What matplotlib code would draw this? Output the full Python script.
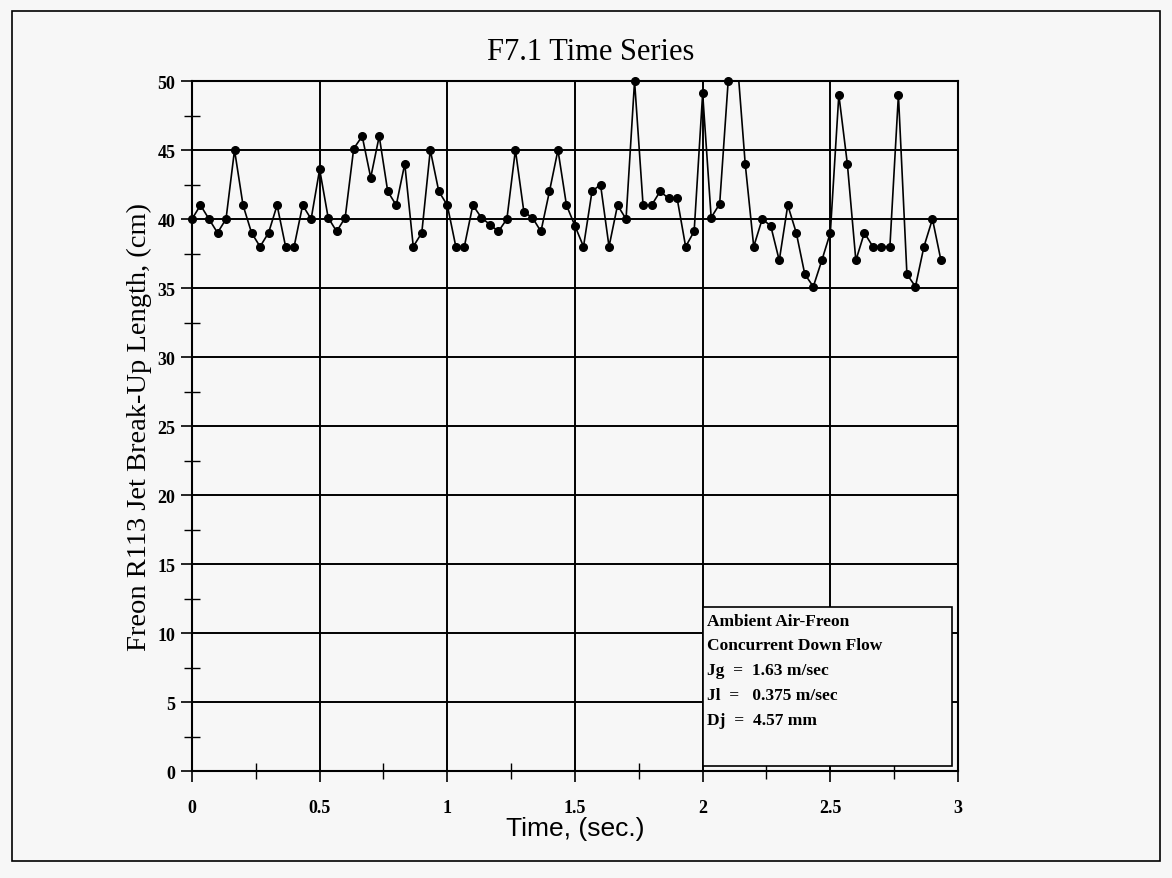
import numpy as np
import matplotlib
matplotlib.use('Agg')
import matplotlib.pyplot as plt
from matplotlib.patches import Rectangle

# frames sampled at 30 fps
frame_rate = 30.0
break_up_length = [
    40.0, 41.0, 40.0, 39.0, 40.0, 45.0, 41.0, 39.0, 38.0, 39.0,
    41.0, 38.0, 38.0, 41.0, 40.0, 43.6, 40.1, 39.1, 40.1, 45.1,
    46.0, 43.0, 46.0, 42.0, 41.0, 44.0, 38.0, 39.0, 45.0, 42.0,
    41.0, 38.0, 38.0, 41.0, 40.1, 39.6, 39.1, 40.0, 45.0, 40.5,
    40.1, 39.1, 42.0, 45.0, 41.0, 39.5, 38.0, 42.0, 42.5, 38.0,
    41.0, 40.0, 50.0, 41.0, 41.0, 42.0, 41.5, 41.5, 38.0, 39.1,
    49.1, 40.1, 41.1, 50.0, 52.0, 44.0, 38.0, 40.0, 39.5, 37.0,
    41.0, 39.0, 36.0, 35.1, 37.0, 39.0, 49.0, 44.0, 37.0, 39.0,
    38.0, 38.0, 38.0, 49.0, 36.0, 35.1, 38.0, 40.0, 37.0,
]
x_ticks = [0, 0.5, 1, 1.5, 2, 2.5, 3]
x_tick_labels = ['0', '0.5', '1', '1.5', '2', '2.5', '3']
y_ticks = [0, 5, 10, 15, 20, 25, 30, 35, 40, 45, 50]
note_lines = [
    'Ambient Air-Freon',
    'Concurrent Down Flow',
    'Jg  =  1.63 m/sec',
    'Jl  =   0.375 m/sec',
    'Dj  =  4.57 mm',
]

def main():
    bg = '#f7f7f7'
    serif = ['Liberation Serif', 'DejaVu Serif']
    sans = ['Liberation Sans', 'DejaVu Sans']

    y = np.array(break_up_length)
    t = np.arange(len(y)) / frame_rate

    fig = plt.figure(figsize=(11.72, 8.79), dpi=100, facecolor=bg)
    ax = fig.add_axes([0.1638, 0.1217, 0.6536, 0.785])
    ax.set_facecolor(bg)

    # outer page frame
    fig.patches.append(Rectangle((0.010, 0.019), 0.980, 0.967, transform=fig.transFigure,
                                 fill=False, edgecolor='black', linewidth=1.2))

    ax.set_xlim(0, 3)
    ax.set_ylim(0, 50)
    ax.set_xticks(x_ticks)
    ax.set_xticklabels(x_tick_labels)
    ax.set_yticks(y_ticks)
    ax.set_xticks(np.arange(0.25, 3, 0.5), minor=True)
    ax.set_yticks(np.arange(2.5, 50, 5), minor=True)

    ax.grid(True, which='major', color='black', linewidth=1.4, zorder=1)
    ax.set_axisbelow(True)
    for s in ax.spines.values():
        s.set_linewidth(1.5)

    ax.tick_params(which='major', direction='out', length=8, width=1.2, pad=4)
    ax.tick_params(which='minor', direction='inout', length=12, width=1.0)
    for lab in ax.get_xticklabels() + ax.get_yticklabels():
        lab.set_fontfamily(serif)
        lab.set_fontweight('bold')
        lab.set_fontsize(13)
    ax.tick_params(axis='x', pad=12)

    ax.plot(t, y, color='black', linewidth=1.2, zorder=3)
    inside = y <= 50
    ax.plot(t[inside], y[inside], linestyle='none', marker='o', markersize=5.5,
            color='black', clip_on=False, zorder=4)

    # parameter box
    ax.add_patch(Rectangle((2.0, 0.35), 0.975, 11.55, facecolor=bg, edgecolor='black',
                           linewidth=1.2, zorder=2.5))
    for i, line in enumerate(note_lines):
        ax.text(2.017, 10.9 - 1.8 * i, line, fontfamily=serif, fontweight='bold',
                fontsize=12.5, va='center', ha='left', zorder=5)

    ax.set_title('F7.1 Time Series', fontfamily=serif, fontsize=22, pad=16, x=0.52)
    ax.set_ylabel('Freon R113 Jet Break-Up Length, (cm)', fontfamily=serif,
                  fontsize=20.5, labelpad=4)
    ax.set_xlabel('Time, (sec.)', fontfamily=sans, fontsize=19, labelpad=0)

    fig.savefig('out.png', dpi=100, facecolor=bg)

if __name__ == "__main__":
    main()
